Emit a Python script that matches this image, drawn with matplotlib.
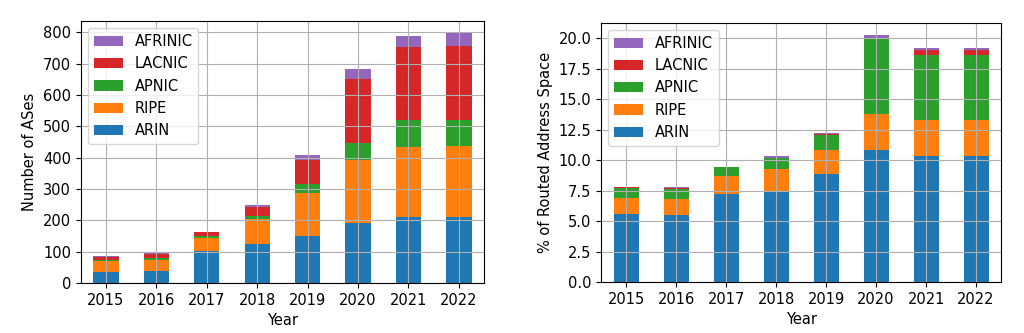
import pandas as pd
import matplotlib.pyplot as plt
from matplotlib.ticker import MultipleLocator, FormatStrFormatter

plt.rcParams['font.size'] = 10.5

years = [2015, 2016, 2017, 2018, 2019, 2020, 2021, 2022]
rirs = ['ARIN', 'RIPE', 'APNIC', 'LACNIC', 'AFRINIC']

# Number of ASes per RIR
ases_arin = [36, 37, 102, 125, 150, 192, 212, 212]
ases_ripe = [34, 38, 42, 80, 138, 200, 223, 226]
ases_apnic = [4, 5, 6, 10, 28, 55, 85, 82]
ases_lacnic = [10, 13, 12, 28, 78, 203, 232, 237]
ases_afrinic = [1, 2, 2, 5, 13, 32, 36, 39]

# % of routed address space per RIR
space_arin = [5.55, 5.5, 7.2, 7.45, 8.85, 10.8, 10.3, 10.3]
space_ripe = [1.3, 1.3, 1.5, 1.85, 1.95, 2.95, 2.95, 3.0]
space_apnic = [0.85, 0.85, 0.7, 0.85, 1.25, 6.15, 5.4, 5.35]
space_lacnic = [0.05, 0.05, 0.02, 0.05, 0.1, 0.05, 0.35, 0.35]
space_afrinic = [0.05, 0.05, 0.02, 0.1, 0.1, 0.3, 0.2, 0.22]

df_ases = pd.DataFrame({'ARIN': ases_arin, 'RIPE': ases_ripe, 'APNIC': ases_apnic,
                        'LACNIC': ases_lacnic, 'AFRINIC': ases_afrinic}, index=years)
df_space = pd.DataFrame({'ARIN': space_arin, 'RIPE': space_ripe, 'APNIC': space_apnic,
                         'LACNIC': space_lacnic, 'AFRINIC': space_afrinic}, index=years)

fig = plt.figure(figsize=(10.24, 3.33), dpi=100)
ax1 = fig.add_axes([0.0788, 0.150, 0.394, 0.787])
ax2 = fig.add_axes([0.587, 0.153, 0.3906, 0.779])

df_ases[rirs].plot.bar(stacked=True, ax=ax1, rot=0)
ax1.set_ylabel('Number of ASes')
ax1.set_xlabel('Year')
ax1.yaxis.set_major_locator(MultipleLocator(100))

df_space[rirs].plot.bar(stacked=True, ax=ax2, rot=0)
ax2.set_ylabel('% of Routed Address Space')
ax2.set_xlabel('Year')
ax2.yaxis.set_major_locator(MultipleLocator(2.5))
ax2.yaxis.set_major_formatter(FormatStrFormatter('%.1f'))

for ax in (ax1, ax2):
    ax.grid(True)
    handles, labels = ax.get_legend_handles_labels()
    ax.legend(handles[::-1], labels[::-1], loc='upper left')

plt.savefig('out.png')
plt.close()
